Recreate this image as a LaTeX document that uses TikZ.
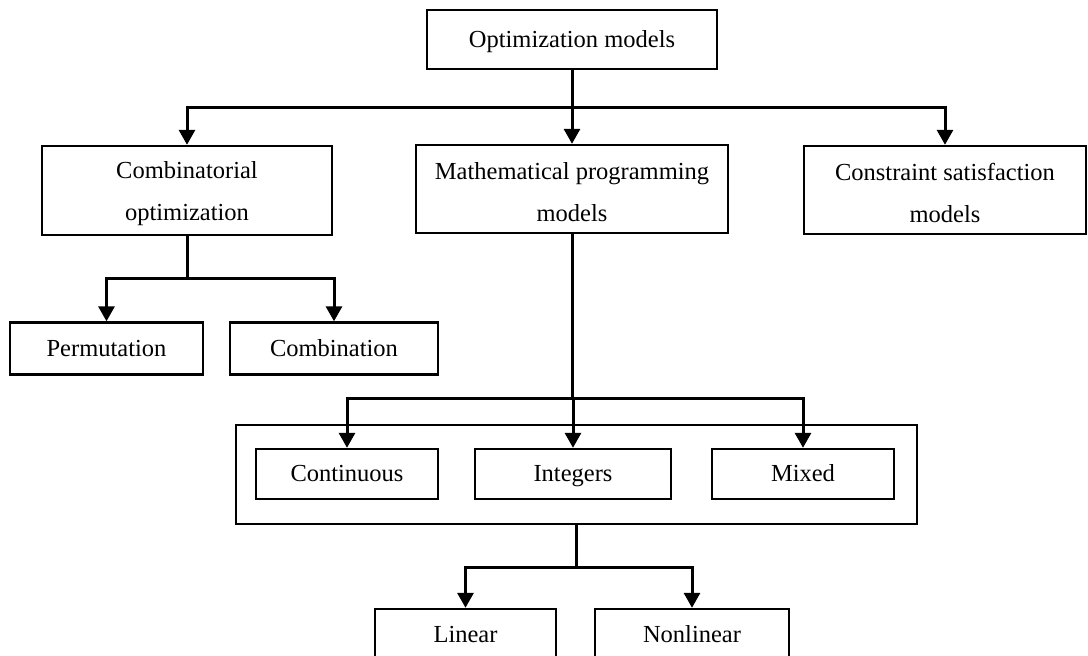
\documentclass[tikz,border=0pt]{standalone}
\usepackage{fontspec}
\setmainfont{Liberation Serif}
\usetikzlibrary{arrows.meta}

% strut that lowers the first line of a two-line label slightly
\newcommand{\toplift}{\rule{0pt}{11.2pt}}

\begin{document}
\begin{tikzpicture}[x=0.5pt,y=-0.5pt,
  box/.style={draw,line width=1.2pt,inner sep=0pt,align=center,
    font=\fontsize{12.25pt}{21pt}\selectfont},
  oneline/.style={box,text height=9.1pt,text depth=1.6pt},
  link/.style={line width=1.5pt},
  arr/.style={link,-{Triangle[length=7.5pt,width=8pt]}}]
  \clip (0,0) rectangle (1088,655);

  % top level
  \node[oneline,minimum width=145pt,minimum height=29.5pt] (top) at (572,39.5) {Optimization models};

  % second level
  \node[box,minimum width=145pt,minimum height=44.5pt] (comb) at (187,190.5) {\toplift Combinatorial\\optimization};
  \node[box,minimum width=156pt,minimum height=44pt] (math) at (572,189) {\toplift Mathematical programming\\models};
  \node[box,minimum width=141pt,minimum height=44pt] (cons) at (945,190) {\toplift Constraint satisfaction\\models};

  % combinatorial branches
  \node[oneline,minimum width=96.5pt,minimum height=26pt] (perm) at (106.5,348.5) {Permutation};
  \node[oneline,minimum width=104pt,minimum height=26pt] (combn) at (334,348.5) {Combination};

  % variable types inside a frame
  \node[box,minimum width=340.5pt,minimum height=49.5pt] (frame) at (576.5,474.5) {};
  \node[oneline,minimum width=91pt,minimum height=25pt] (cont) at (347,474) {Continuous};
  \node[oneline,minimum width=98pt,minimum height=25pt] (integ) at (573,474) {Integers};
  \node[oneline,minimum width=91pt,minimum height=25pt] (mixed) at (803,474) {Mixed};

  % linearity
  \node[oneline,minimum width=90.5pt,minimum height=25.5pt] (lin) at (465.5,634.5) {Linear};
  \node[oneline,minimum width=97pt,minimum height=25.5pt] (nonlin) at (692,634.5) {Nonlinear};

  % junction points
  \coordinate (b1) at (572,107);
  \coordinate (b2) at (187,278);
  \coordinate (b3) at (573,398);
  \coordinate (b4) at (576.5,567);

  % connectors
  \draw[link] (top.south) -- (b1);
  \draw[arr] (b1) -| (comb.north);
  \draw[arr] (b1) -| (cons.north);
  \draw[arr] (b1) -- (math.north);

  \draw[link] (comb.south) -- (b2);
  \draw[arr] (b2) -| (perm.north);
  \draw[arr] (b2) -| (combn.north);

  \draw[link] (math.south) -- (math.south |- b3);
  \draw[arr] (b3) -| (cont.north);
  \draw[arr] (b3) -| (mixed.north);
  \draw[arr] (b3) -- (integ.north);

  \draw[link] (frame.south) -- (b4);
  \draw[arr] (b4) -| (lin.north);
  \draw[arr] (b4) -| (nonlin.north);
\end{tikzpicture}
\end{document}
